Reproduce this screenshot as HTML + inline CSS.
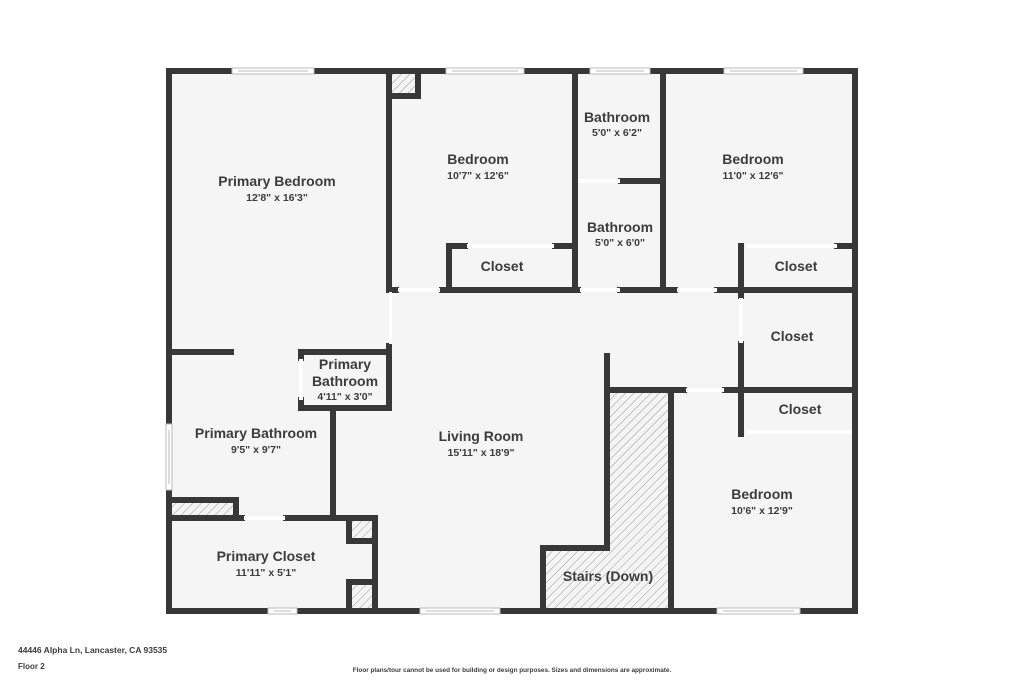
<!DOCTYPE html>
<html><head><style>
body{margin:0;background:#fff;}
svg text{font-family:"Liberation Sans",sans-serif;fill:#3c3c3c;font-weight:bold;text-anchor:middle}
.l{font-size:14px}.d{font-size:10.5px}
</style></head><body>
<svg width="1024" height="683" viewBox="0 0 1024 683" xmlns="http://www.w3.org/2000/svg">
<defs>
<pattern id="h" width="6" height="6" patternUnits="userSpaceOnUse" patternTransform="rotate(45)">
<rect width="6" height="6" fill="#f4f4f4"/><line x1="0" y1="0" x2="0" y2="6" stroke="#999" stroke-width="1"/>
</pattern>
</defs>
<rect x="169" y="71" width="686" height="540" fill="#f5f5f5"/>
<rect x="392" y="74" width="23" height="19" fill="url(#h)"/>
<rect x="172" y="503" width="61" height="13" fill="url(#h)"/>
<rect x="352" y="521" width="20" height="19" fill="url(#h)"/>
<rect x="352" y="584" width="20" height="24" fill="url(#h)"/>
<path d="M610 393 H669 V608 H546 V551 H610 Z" fill="url(#h)"/>
<g stroke="#383838" stroke-width="6" fill="none" stroke-linecap="square">
<path d="M169 71 H855 V611 H169 Z"/>
<path d="M389 71 V290 M389 346 V408"/>
<path d="M389 96 H418 V71"/>
<path d="M389 290 H396 M442 290 H578 M620 290 H675 M717 290 H855"/>
<path d="M449 290 V246 H465 M555 246 H575"/>
<path d="M575 71 V290 M663 71 V290"/>
<path d="M621 181 H663"/>
<path d="M741 246 V296 M741 344 V434"/>
<path d="M837 246 H855"/>
<path d="M608 390 H684 M725 390 H855"/>
<path d="M607 356 V548 H543 V611 M671 390 V611"/>
<path d="M169 352 H231"/>
<path d="M301 408 H389 M301 352 H389 M301 352 V358 M301 400 V408"/>
<path d="M333 408 V518"/>
<path d="M169 518 H242 M286 518 H375 V611"/>
<path d="M169 500 H236 V518"/>
<path d="M349 518 V541 H372 M349 611 V582 H372"/>
</g>
<g fill="#fff" stroke="#bbb" stroke-width="1">
<rect x="232" y="68" width="82" height="6"/>
<rect x="446" y="68" width="78" height="6"/>
<rect x="590" y="68" width="60" height="6"/>
<rect x="724" y="68" width="79" height="6"/>
<rect x="268" y="608" width="29" height="6"/>
<rect x="420" y="608" width="80" height="6"/>
<rect x="717" y="608" width="83" height="6"/>
<rect x="166" y="424" width="6" height="66"/>
</g>
<g stroke="#bbb" stroke-width="1">
<path d="M238 71 H308 M452 71 H518 M596 71 H644 M730 71 H797 M274 611 H291 M426 611 H494 M723 611 H794 M169 430 V484"/>
</g>
<g fill="#fff">
<rect x="398" y="288" width="42" height="4"/>
<rect x="389" y="292" width="3" height="52"/>
<rect x="467" y="244" width="87" height="4"/>
<rect x="580" y="288" width="40" height="4"/>
<rect x="578" y="179" width="42" height="4"/>
<rect x="677" y="288" width="40" height="4"/>
<rect x="747" y="244" width="90" height="4"/>
<rect x="739" y="298" width="4" height="45"/>
<rect x="686" y="388" width="38" height="4"/>
<rect x="747" y="430" width="105" height="4"/>
<rect x="244" y="516" width="41" height="4"/>
<rect x="299" y="359" width="4" height="41"/>
</g>
<text class="l" x="277" y="186">Primary Bedroom</text><text class="d" x="277" y="201">12'8" x 16'3"</text>
<text class="l" x="478" y="164">Bedroom</text><text class="d" x="478" y="179">10'7" x 12'6"</text>
<text class="l" x="617" y="122">Bathroom</text><text class="d" x="617" y="136">5'0" x 6'2"</text>
<text class="l" x="620" y="232">Bathroom</text><text class="d" x="620" y="246">5'0" x 6'0"</text>
<text class="l" x="753" y="164">Bedroom</text><text class="d" x="753" y="179">11'0" x 12'6"</text>
<text class="l" x="502" y="271">Closet</text>
<text class="l" x="796" y="271">Closet</text>
<text class="l" x="792" y="341">Closet</text>
<text class="l" x="800" y="414">Closet</text>
<text class="l" x="345" y="369">Primary</text><text class="l" x="345" y="386">Bathroom</text><text class="d" x="345" y="400">4'11" x 3'0"</text>
<text class="l" x="256" y="438">Primary Bathroom</text><text class="d" x="256" y="453">9'5" x 9'7"</text>
<text class="l" x="481" y="441">Living Room</text><text class="d" x="481" y="456">15'11" x 18'9"</text>
<text class="l" x="762" y="499">Bedroom</text><text class="d" x="762" y="514">10'6" x 12'9"</text>
<text class="l" x="266" y="561">Primary Closet</text><text class="d" x="266" y="576">11'11" x 5'1"</text>
<text class="l" x="608" y="581">Stairs (Down)</text>
<text x="18" y="653" style="font-size:8.5px;text-anchor:start">44446 Alpha Ln, Lancaster, CA 93535</text>
<text x="18" y="669" style="font-size:8px;text-anchor:start">Floor 2</text>
<text x="512" y="672" style="font-size:6.4px">Floor plans/tour cannot be used for building or design purposes. Sizes and dimensions are approximate.</text>
</svg>
</body></html>
